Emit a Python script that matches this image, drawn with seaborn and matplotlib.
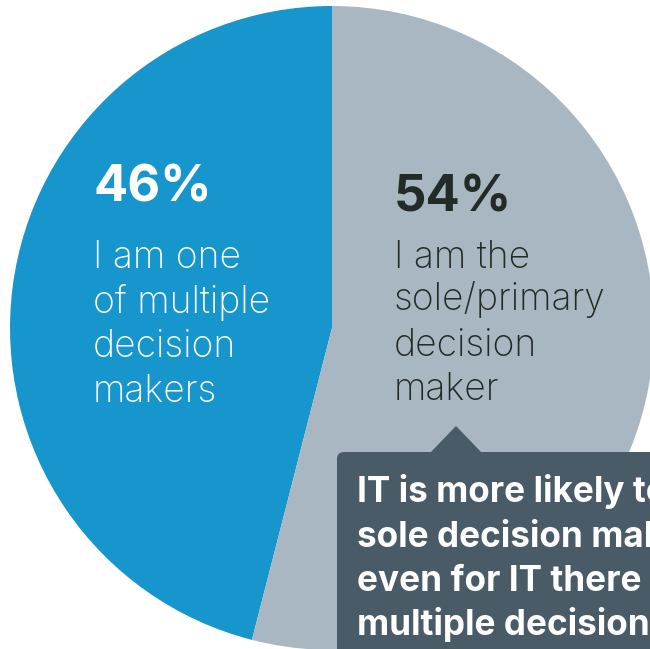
import matplotlib
matplotlib.use("Agg")
import matplotlib.pyplot as plt
from matplotlib.patches import FancyBboxPatch, Polygon
import seaborn as sns

# Survey split: who makes the decision
shares = [46, 54]
share_labels = ["46%", "54%"]
descriptions = [
    ["I am one", "of multiple", "decision", "makers"],
    ["I am the", "sole/primary", "decision", "maker"],
]
callout_lines = [
    "IT is more likely to be the",
    "sole decision maker, but",
    "even for IT there are",
    "multiple decision makers",
]

BLUE = "#1796cd"
GREY = "#a8b7c1"
SLATE = "#4a5b68"
INK = "#232b26"

sns.set_theme(style="white")
plt.rcParams["font.family"] = ["Inter", "DejaVu Sans"]

W, H = 650, 649
fig = plt.figure(figsize=(W / 100, H / 100), dpi=100)
ax = fig.add_axes([0, 0, 1, 1])


def y(py):
    """Convert a top-down pixel row to the axes' bottom-up y."""
    return H - py


ax.pie(
    shares,
    colors=[BLUE, GREY],
    startangle=90,
    counterclock=True,
    center=(332, y(328)),
    radius=322,
    wedgeprops=dict(linewidth=0, antialiased=True),
)
ax.set_xlim(0, W)
ax.set_ylim(0, H)
ax.set_aspect("auto")
ax.axis("off")

# Percentages and descriptions inside each slice
text_specs = [
    dict(x=93, top=202, colour="white"),
    dict(x=394, top=212, colour=INK),
]
desc_baselines = [
    [268, 313, 357, 402],
    [268, 310, 356, 400],
]
for i, spec in enumerate(text_specs):
    ax.text(spec["x"], y(spec["top"]), share_labels[i], color=spec["colour"],
            fontsize=36.5, fontweight="bold", ha="left", va="baseline")
    for line, base in zip(descriptions[i], desc_baselines[i]):
        ax.text(spec["x"], y(base), line, color=spec["colour"],
                fontsize=26.8, fontweight="light", ha="left", va="baseline")

# Callout box with pointer
box = FancyBboxPatch((337, y(760)), 500, 760 - 452,
                     boxstyle="round,pad=0,rounding_size=7",
                     facecolor=SLATE, edgecolor="none", zorder=3)
ax.add_patch(box)
pointer = Polygon([(430, y(453)), (456, y(426)), (482, y(453))],
                  closed=True, facecolor=SLATE, edgecolor="none", zorder=3)
ax.add_patch(pointer)

# Callout copy; the box runs past the figure edge, so the lines do too
for k, line in enumerate(callout_lines):
    ax.text(357, y(502 + 44.5 * k), line, color="white", fontsize=25.3,
            fontweight="bold", ha="left", va="baseline", zorder=4,
            clip_on=True)

fig.savefig("out.png", dpi=100, facecolor="white")
